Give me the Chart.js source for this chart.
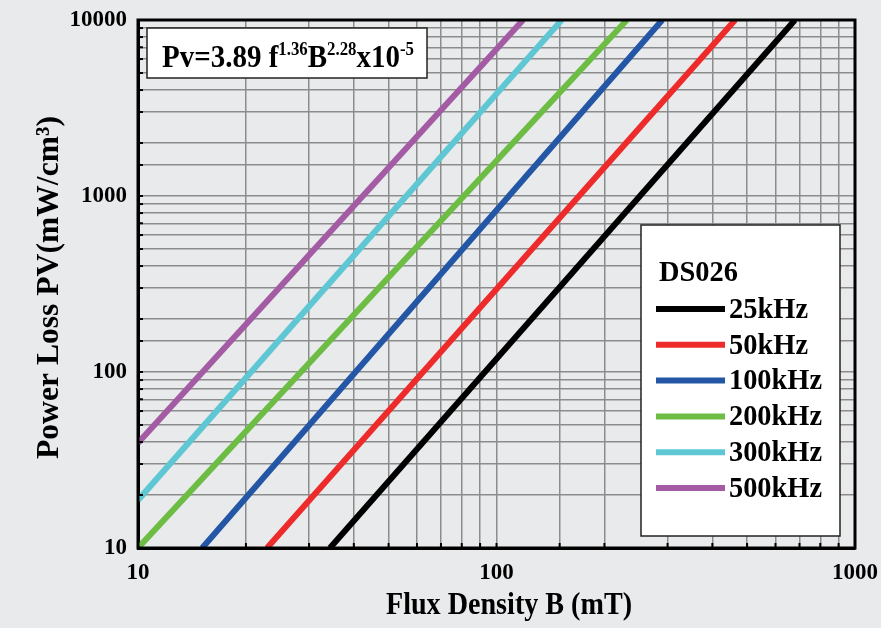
<!DOCTYPE html>
<html>
<head>
<meta charset="utf-8">
<script src="https://cdn.jsdelivr.net/npm/chart.js@4.4.1/dist/chart.umd.min.js"></script>
<style>
  html, body { margin: 0; padding: 0; background: #e9eaec; }
  #wrap { width: 881px; height: 628px; }
</style>
</head>
<body>
<div id="wrap"><canvas id="lossChart" width="881" height="628"></canvas></div>
<script>
// Values: each curve is a straight line on log-log axes,
// given by where it enters and leaves the plot box.
const freqLabels = ["25kHz", "50kHz", "100kHz", "200kHz", "300kHz", "500kHz"];
const fluxStart = [34.3, 22.9, 15.1, 10, 10, 10];       // mT
const lossStart = [10, 10, 10, 10, 18.7, 39.5];         // mW/cm3
const fluxEnd = [680, 463, 290, 231, 152, 118.6];       // mT
const lossEnd = [10000, 10000, 10000, 10000, 10000, 10000];
const xTickLabels = [10, 100, 1000];
const yTickLabels = [10, 100, 1000, 10000];
const legendTitle = "DS026";
const xTitle = "Flux Density B (mT)";
const yTitle = "Power Loss PV(mW/cm³)";

const lineColors = ["#000000", "#ee2b2b", "#2456a6", "#6dbd45", "#5fc7d3", "#a35ca4"];
const serif = "'Liberation Serif', 'Times New Roman', serif";

const datasets = freqLabels.map((lab, i) => ({
  label: lab,
  data: [{ x: fluxStart[i], y: lossStart[i] }, { x: fluxEnd[i], y: lossEnd[i] }],
  borderColor: lineColors[i],
  backgroundColor: lineColors[i],
  borderWidth: 6,
  pointRadius: 0,
  tension: 0
}));

// draw text squeezed to a given width (the original face is narrow)
function squeezed(ctx, text, x, y, width) {
  const w = ctx.measureText(text).width;
  ctx.save();
  ctx.translate(x, y);
  ctx.scale(Math.min(1, width / w), 1);
  ctx.fillText(text, 0, 0);
  ctx.restore();
}

// frame, inner tick marks, axis titles, formula box and legend box
const decorPlugin = {
  id: "decor",
  afterDraw(chart) {
    const { ctx, chartArea: a, scales } = chart;
    ctx.save();
    // small tick marks pointing inwards
    ctx.strokeStyle = "#000";
    ctx.lineWidth = 2;
    scales.x.ticks.forEach(t => {
      const px = scales.x.getPixelForValue(t.value);
      ctx.beginPath(); ctx.moveTo(px, a.bottom); ctx.lineTo(px, a.bottom - 5); ctx.stroke();
    });
    scales.y.ticks.forEach(t => {
      const py = scales.y.getPixelForValue(t.value);
      ctx.beginPath(); ctx.moveTo(a.left, py); ctx.lineTo(a.left + 5, py); ctx.stroke();
    });
    // frame
    ctx.lineWidth = 3;
    ctx.strokeRect(a.left, a.top, a.right - a.left, a.bottom - a.top);

    // axis titles
    ctx.fillStyle = "#000";
    ctx.textBaseline = "middle";
    ctx.textAlign = "left";
    ctx.font = "bold 32px " + serif;
    squeezed(ctx, xTitle, 386, 606, 246);
    ctx.save();
    ctx.translate(50, 459);
    ctx.rotate(-Math.PI / 2);
    squeezed(ctx, yTitle, 0, 0, 343);
    ctx.restore();

    // formula box
    ctx.fillStyle = "#fff";
    ctx.strokeStyle = "#222";
    ctx.lineWidth = 1.5;
    ctx.fillRect(147, 28, 280, 50);
    ctx.strokeRect(147, 28, 280, 50);
    const parts = [
      ["Pv=3.89 f", false], ["1.36", true], ["B", false], ["2.28", true], ["x10", false], ["-5", true]
    ];
    const big = "bold 31px " + serif, small = "bold 18px " + serif;
    let total = 0;
    parts.forEach(p => { ctx.font = p[1] ? small : big; total += ctx.measureText(p[0]).width; });
    ctx.save();
    ctx.translate(162, 67);
    ctx.scale(252 / total, 1);
    ctx.fillStyle = "#000";
    ctx.textBaseline = "alphabetic";
    let cx = 0;
    parts.forEach(p => {
      ctx.font = p[1] ? small : big;
      ctx.fillText(p[0], cx, p[1] ? -12 : 0);
      cx += ctx.measureText(p[0]).width;
    });
    ctx.restore();

    // legend box
    ctx.fillStyle = "#fff";
    ctx.strokeStyle = "#222";
    ctx.lineWidth = 1.5;
    ctx.fillRect(641, 225, 199, 311);
    ctx.strokeRect(641, 225, 199, 311);
    ctx.fillStyle = "#000";
    ctx.font = "bold 30px " + serif;
    ctx.textBaseline = "middle";
    squeezed(ctx, legendTitle, 659, 273, 79);
    chart.data.datasets.forEach((ds, i) => {
      const y = 309 + i * 35.8;
      ctx.strokeStyle = ds.borderColor;
      ctx.lineWidth = 6;
      ctx.beginPath(); ctx.moveTo(656, y); ctx.lineTo(725, y); ctx.stroke();
      ctx.fillStyle = "#000";
      squeezed(ctx, ds.label, 729, y + 1, ds.label.length === 5 ? 79 : 93);
    });
    ctx.restore();
  }
};

new Chart(document.getElementById("lossChart"), {
  type: "line",
  data: { datasets: datasets },
  plugins: [decorPlugin],
  options: {
    responsive: false,
    animation: false,
    layout: { padding: { top: 20, right: 26, left: 0, bottom: 0 } },
    plugins: { legend: { display: false }, tooltip: { enabled: false } },
    scales: {
      x: {
        type: "logarithmic",
        min: 10,
        max: 1000,
        afterFit: s => { s.height = 80; s.paddingLeft = 0; s.paddingRight = 0; },
        grid: { color: "#8c8c8c", lineWidth: 1.5, drawTicks: false },
        border: { color: "#000", width: 3 },
        ticks: {
          autoSkip: false,
          maxRotation: 0,
          padding: 11,
          color: "#000",
          font: { family: serif, size: 23, weight: "bold" },
          callback: v => xTickLabels.includes(v) ? String(v) : ""
        }
      },
      y: {
        type: "logarithmic",
        min: 10,
        max: 10000,
        afterFit: s => { s.width = 138; s.paddingTop = 0; s.paddingBottom = 0; },
        grid: { color: "#8c8c8c", lineWidth: 1.5, drawTicks: false },
        border: { color: "#000", width: 3 },
        ticks: {
          autoSkip: false,
          padding: 11,
          color: "#000",
          font: { family: serif, size: 23, weight: "bold" },
          callback: v => yTickLabels.includes(v) ? String(v) : ""
        }
      }
    }
  }
});
</script>
</body>
</html>
